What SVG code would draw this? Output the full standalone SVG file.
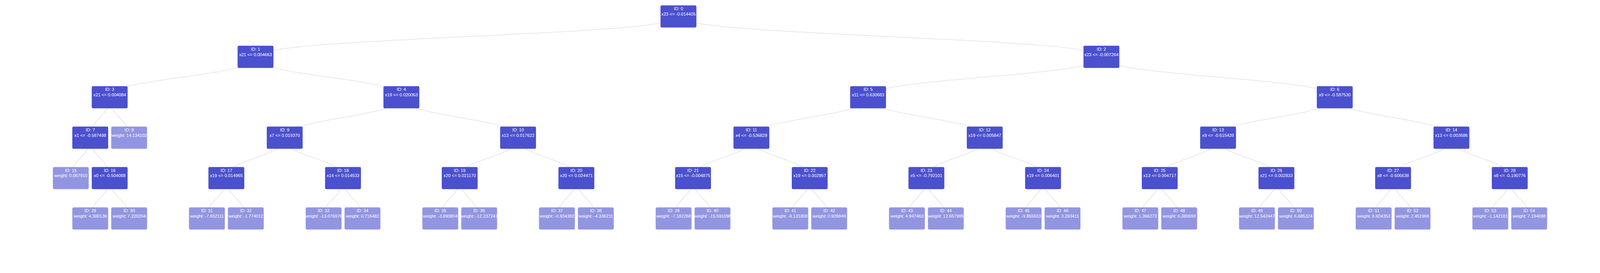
<svg xmlns="http://www.w3.org/2000/svg" width="4760" height="700" viewBox="0 0 4760 700" preserveAspectRatio="xMinYMin meet">
<style>
svg{width:100vw;max-width:4760px}
.links path{fill:none;stroke:#e4e4ef;stroke-width:2}
.node rect{fill:#4b50ce;stroke:none}
.leaf{opacity:0.6}
.leaf rect{stroke:#a9abea;stroke-width:1}
.node text{fill:#ffffff;font-family:"Liberation Sans",Arial,sans-serif;font-size:13px;text-anchor:middle}
</style>
<rect width="4760" height="700" fill="#ffffff"/>
<g id="links" class="links">
<path d="M2018.4,49C2018.4,109.2 760.2,109.2 760.2,169.4"/>
<path d="M2018.4,49C2018.4,109.2 3276.7,109.2 3276.7,169.4"/>
<path d="M760.2,169.4C760.2,229.6 326.3,229.6 326.3,289.8"/>
<path d="M760.2,169.4C760.2,229.6 1194.1,229.6 1194.1,289.8"/>
<path d="M3276.7,169.4C3276.7,229.6 2582.5,229.6 2582.5,289.8"/>
<path d="M3276.7,169.4C3276.7,229.6 3970.9,229.6 3970.9,289.8"/>
<path d="M326.3,289.8C326.3,350 268.5,350 268.5,410.2"/>
<path d="M326.3,289.8C326.3,350 384.2,350 384.2,410.2"/>
<path d="M1194.1,289.8C1194.1,350 847,350 847,410.2"/>
<path d="M1194.1,289.8C1194.1,350 1541.2,350 1541.2,410.2"/>
<path d="M2582.5,289.8C2582.5,350 2235.4,350 2235.4,410.2"/>
<path d="M2582.5,289.8C2582.5,350 2929.6,350 2929.6,410.2"/>
<path d="M3970.9,289.8C3970.9,350 3623.8,350 3623.8,410.2"/>
<path d="M3970.9,289.8C3970.9,350 4318,350 4318,410.2"/>
<path d="M268.5,410.2C268.5,470.4 210.6,470.4 210.6,530.6"/>
<path d="M268.5,410.2C268.5,470.4 326.3,470.4 326.3,530.6"/>
<path d="M847,410.2C847,470.4 673.4,470.4 673.4,530.6"/>
<path d="M847,410.2C847,470.4 1020.5,470.4 1020.5,530.6"/>
<path d="M1541.2,410.2C1541.2,470.4 1367.6,470.4 1367.6,530.6"/>
<path d="M1541.2,410.2C1541.2,470.4 1714.7,470.4 1714.7,530.6"/>
<path d="M2235.4,410.2C2235.4,470.4 2061.8,470.4 2061.8,530.6"/>
<path d="M2235.4,410.2C2235.4,470.4 2408.9,470.4 2408.9,530.6"/>
<path d="M2929.6,410.2C2929.6,470.4 2756,470.4 2756,530.6"/>
<path d="M2929.6,410.2C2929.6,470.4 3103.1,470.4 3103.1,530.6"/>
<path d="M3623.8,410.2C3623.8,470.4 3450.2,470.4 3450.2,530.6"/>
<path d="M3623.8,410.2C3623.8,470.4 3797.3,470.4 3797.3,530.6"/>
<path d="M4318,410.2C4318,470.4 4144.4,470.4 4144.4,530.6"/>
<path d="M4318,410.2C4318,470.4 4491.5,470.4 4491.5,530.6"/>
<path d="M326.3,530.6C326.3,590.8 268.5,590.8 268.5,651"/>
<path d="M326.3,530.6C326.3,590.8 384.2,590.8 384.2,651"/>
<path d="M673.4,530.6C673.4,590.8 615.6,590.8 615.6,651"/>
<path d="M673.4,530.6C673.4,590.8 731.3,590.8 731.3,651"/>
<path d="M1020.5,530.6C1020.5,590.8 962.7,590.8 962.7,651"/>
<path d="M1020.5,530.6C1020.5,590.8 1078.4,590.8 1078.4,651"/>
<path d="M1367.6,530.6C1367.6,590.8 1309.8,590.8 1309.8,651"/>
<path d="M1367.6,530.6C1367.6,590.8 1425.5,590.8 1425.5,651"/>
<path d="M1714.7,530.6C1714.7,590.8 1656.9,590.8 1656.9,651"/>
<path d="M1714.7,530.6C1714.7,590.8 1772.6,590.8 1772.6,651"/>
<path d="M2061.8,530.6C2061.8,590.8 2004,590.8 2004,651"/>
<path d="M2061.8,530.6C2061.8,590.8 2119.7,590.8 2119.7,651"/>
<path d="M2408.9,530.6C2408.9,590.8 2351.1,590.8 2351.1,651"/>
<path d="M2408.9,530.6C2408.9,590.8 2466.8,590.8 2466.8,651"/>
<path d="M2756,530.6C2756,590.8 2698.2,590.8 2698.2,651"/>
<path d="M2756,530.6C2756,590.8 2813.9,590.8 2813.9,651"/>
<path d="M3103.1,530.6C3103.1,590.8 3045.3,590.8 3045.3,651"/>
<path d="M3103.1,530.6C3103.1,590.8 3161,590.8 3161,651"/>
<path d="M3450.2,530.6C3450.2,590.8 3392.4,590.8 3392.4,651"/>
<path d="M3450.2,530.6C3450.2,590.8 3508.1,590.8 3508.1,651"/>
<path d="M3797.3,530.6C3797.3,590.8 3739.5,590.8 3739.5,651"/>
<path d="M3797.3,530.6C3797.3,590.8 3855.2,590.8 3855.2,651"/>
<path d="M4144.4,530.6C4144.4,590.8 4086.6,590.8 4086.6,651"/>
<path d="M4144.4,530.6C4144.4,590.8 4202.3,590.8 4202.3,651"/>
<path d="M4491.5,530.6C4491.5,590.8 4433.7,590.8 4433.7,651"/>
<path d="M4491.5,530.6C4491.5,590.8 4549.4,590.8 4549.4,651"/>
</g>
<g id="n0" class="node" transform="translate(2018.4,16)"><rect x="-53.35" width="106.7" height="66" rx="4"/><text y="14.4">ID: 0</text><text y="30.4">x23 &lt;= -0.014405</text></g>
<g id="n1" class="node" transform="translate(760.2,136.4)"><rect x="-53.35" width="106.7" height="66" rx="4"/><text y="14.4">ID: 1</text><text y="30.4">x21 &lt;= 0.004663</text></g>
<g id="n2" class="node" transform="translate(3276.7,136.4)"><rect x="-53.35" width="106.7" height="66" rx="4"/><text y="14.4">ID: 2</text><text y="30.4">x23 &lt;= -0.007264</text></g>
<g id="n3" class="node" transform="translate(326.3,256.8)"><rect x="-53.35" width="106.7" height="66" rx="4"/><text y="14.4">ID: 3</text><text y="30.4">x21 &lt;= 0.004084</text></g>
<g id="n4" class="node" transform="translate(1194.1,256.8)"><rect x="-53.35" width="106.7" height="66" rx="4"/><text y="14.4">ID: 4</text><text y="30.4">x19 &lt;= 0.020063</text></g>
<g id="n5" class="node" transform="translate(2582.5,256.8)"><rect x="-53.35" width="106.7" height="66" rx="4"/><text y="14.4">ID: 5</text><text y="30.4">x11 &lt;= 0.630683</text></g>
<g id="n6" class="node" transform="translate(3970.9,256.8)"><rect x="-53.35" width="106.7" height="66" rx="4"/><text y="14.4">ID: 6</text><text y="30.4">x9 &lt;= -0.587530</text></g>
<g id="n7" class="node" transform="translate(268.5,377.2)"><rect x="-53.35" width="106.7" height="66" rx="4"/><text y="14.4">ID: 7</text><text y="30.4">x1 &lt;= -0.587498</text></g>
<g id="n8" class="node leaf" transform="translate(384.2,377.2)"><rect x="-53.35" width="106.7" height="66" rx="4"/><text y="14.4">ID: 8</text><text y="30.4">weight: 14.134102</text></g>
<g id="n9" class="node" transform="translate(847,377.2)"><rect x="-53.35" width="106.7" height="66" rx="4"/><text y="14.4">ID: 9</text><text y="30.4">x7 &lt;= 0.019370</text></g>
<g id="n10" class="node" transform="translate(1541.2,377.2)"><rect x="-53.35" width="106.7" height="66" rx="4"/><text y="14.4">ID: 10</text><text y="30.4">x13 &lt;= 0.017622</text></g>
<g id="n11" class="node" transform="translate(2235.4,377.2)"><rect x="-53.35" width="106.7" height="66" rx="4"/><text y="14.4">ID: 11</text><text y="30.4">x4 &lt;= -0.536828</text></g>
<g id="n12" class="node" transform="translate(2929.6,377.2)"><rect x="-53.35" width="106.7" height="66" rx="4"/><text y="14.4">ID: 12</text><text y="30.4">x19 &lt;= 0.005847</text></g>
<g id="n13" class="node" transform="translate(3623.8,377.2)"><rect x="-53.35" width="106.7" height="66" rx="4"/><text y="14.4">ID: 13</text><text y="30.4">x9 &lt;= -0.615439</text></g>
<g id="n14" class="node" transform="translate(4318,377.2)"><rect x="-53.35" width="106.7" height="66" rx="4"/><text y="14.4">ID: 14</text><text y="30.4">x13 &lt;= 0.003686</text></g>
<g id="n15" class="node leaf" transform="translate(210.6,497.6)"><rect x="-53.35" width="106.7" height="66" rx="4"/><text y="14.4">ID: 15</text><text y="30.4">weight: 0.067910</text></g>
<g id="n16" class="node" transform="translate(326.3,497.6)"><rect x="-53.35" width="106.7" height="66" rx="4"/><text y="14.4">ID: 16</text><text y="30.4">x0 &lt;= -0.504088</text></g>
<g id="n17" class="node" transform="translate(673.4,497.6)"><rect x="-53.35" width="106.7" height="66" rx="4"/><text y="14.4">ID: 17</text><text y="30.4">x19 &lt;= 0.014965</text></g>
<g id="n18" class="node" transform="translate(1020.5,497.6)"><rect x="-53.35" width="106.7" height="66" rx="4"/><text y="14.4">ID: 18</text><text y="30.4">x14 &lt;= 0.014533</text></g>
<g id="n19" class="node" transform="translate(1367.6,497.6)"><rect x="-53.35" width="106.7" height="66" rx="4"/><text y="14.4">ID: 19</text><text y="30.4">x20 &lt;= 0.021170</text></g>
<g id="n20" class="node" transform="translate(1714.7,497.6)"><rect x="-53.35" width="106.7" height="66" rx="4"/><text y="14.4">ID: 20</text><text y="30.4">x20 &lt;= 0.024471</text></g>
<g id="n21" class="node" transform="translate(2061.8,497.6)"><rect x="-53.35" width="106.7" height="66" rx="4"/><text y="14.4">ID: 21</text><text y="30.4">x15 &lt;= -0.004875</text></g>
<g id="n22" class="node" transform="translate(2408.9,497.6)"><rect x="-53.35" width="106.7" height="66" rx="4"/><text y="14.4">ID: 22</text><text y="30.4">x19 &lt;= 0.002857</text></g>
<g id="n23" class="node" transform="translate(2756,497.6)"><rect x="-53.35" width="106.7" height="66" rx="4"/><text y="14.4">ID: 23</text><text y="30.4">x5 &lt;= -0.792101</text></g>
<g id="n24" class="node" transform="translate(3103.1,497.6)"><rect x="-53.35" width="106.7" height="66" rx="4"/><text y="14.4">ID: 24</text><text y="30.4">x19 &lt;= 0.006401</text></g>
<g id="n25" class="node" transform="translate(3450.2,497.6)"><rect x="-53.35" width="106.7" height="66" rx="4"/><text y="14.4">ID: 25</text><text y="30.4">x13 &lt;= 0.004717</text></g>
<g id="n26" class="node" transform="translate(3797.3,497.6)"><rect x="-53.35" width="106.7" height="66" rx="4"/><text y="14.4">ID: 26</text><text y="30.4">x21 &lt;= 0.002833</text></g>
<g id="n27" class="node" transform="translate(4144.4,497.6)"><rect x="-53.35" width="106.7" height="66" rx="4"/><text y="14.4">ID: 27</text><text y="30.4">x8 &lt;= -0.606638</text></g>
<g id="n28" class="node" transform="translate(4491.5,497.6)"><rect x="-53.35" width="106.7" height="66" rx="4"/><text y="14.4">ID: 28</text><text y="30.4">x8 &lt;= -0.190776</text></g>
<g id="n29" class="node leaf" transform="translate(268.5,618)"><rect x="-53.35" width="106.7" height="66" rx="4"/><text y="14.4">ID: 29</text><text y="30.4">weight: 4.300136</text></g>
<g id="n30" class="node leaf" transform="translate(384.2,618)"><rect x="-53.35" width="106.7" height="66" rx="4"/><text y="14.4">ID: 30</text><text y="30.4">weight: 7.220204</text></g>
<g id="n31" class="node leaf" transform="translate(615.6,618)"><rect x="-53.35" width="106.7" height="66" rx="4"/><text y="14.4">ID: 31</text><text y="30.4">weight: -7.652111</text></g>
<g id="n32" class="node leaf" transform="translate(731.3,618)"><rect x="-53.35" width="106.7" height="66" rx="4"/><text y="14.4">ID: 32</text><text y="30.4">weight: -1.774012</text></g>
<g id="n33" class="node leaf" transform="translate(962.7,618)"><rect x="-53.35" width="106.7" height="66" rx="4"/><text y="14.4">ID: 33</text><text y="30.4">weight: -13.076976</text></g>
<g id="n34" class="node leaf" transform="translate(1078.4,618)"><rect x="-53.35" width="106.7" height="66" rx="4"/><text y="14.4">ID: 34</text><text y="30.4">weight: 0.716482</text></g>
<g id="n35" class="node leaf" transform="translate(1309.8,618)"><rect x="-53.35" width="106.7" height="66" rx="4"/><text y="14.4">ID: 35</text><text y="30.4">weight: -3.890804</text></g>
<g id="n36" class="node leaf" transform="translate(1425.5,618)"><rect x="-53.35" width="106.7" height="66" rx="4"/><text y="14.4">ID: 36</text><text y="30.4">weight: -12.237247</text></g>
<g id="n37" class="node leaf" transform="translate(1656.9,618)"><rect x="-53.35" width="106.7" height="66" rx="4"/><text y="14.4">ID: 37</text><text y="30.4">weight: -0.934382</text></g>
<g id="n38" class="node leaf" transform="translate(1772.6,618)"><rect x="-53.35" width="106.7" height="66" rx="4"/><text y="14.4">ID: 38</text><text y="30.4">weight: -4.336211</text></g>
<g id="n39" class="node leaf" transform="translate(2004,618)"><rect x="-53.35" width="106.7" height="66" rx="4"/><text y="14.4">ID: 39</text><text y="30.4">weight: -7.182268</text></g>
<g id="n40" class="node leaf" transform="translate(2119.7,618)"><rect x="-53.35" width="106.7" height="66" rx="4"/><text y="14.4">ID: 40</text><text y="30.4">weight: -15.591098</text></g>
<g id="n41" class="node leaf" transform="translate(2351.1,618)"><rect x="-53.35" width="106.7" height="66" rx="4"/><text y="14.4">ID: 41</text><text y="30.4">weight: -8.131800</text></g>
<g id="n42" class="node leaf" transform="translate(2466.8,618)"><rect x="-53.35" width="106.7" height="66" rx="4"/><text y="14.4">ID: 42</text><text y="30.4">weight: 0.926849</text></g>
<g id="n43" class="node leaf" transform="translate(2698.2,618)"><rect x="-53.35" width="106.7" height="66" rx="4"/><text y="14.4">ID: 43</text><text y="30.4">weight: 4.947463</text></g>
<g id="n44" class="node leaf" transform="translate(2813.9,618)"><rect x="-53.35" width="106.7" height="66" rx="4"/><text y="14.4">ID: 44</text><text y="30.4">weight: 12.657995</text></g>
<g id="n45" class="node leaf" transform="translate(3045.3,618)"><rect x="-53.35" width="106.7" height="66" rx="4"/><text y="14.4">ID: 45</text><text y="30.4">weight: -9.855933</text></g>
<g id="n46" class="node leaf" transform="translate(3161,618)"><rect x="-53.35" width="106.7" height="66" rx="4"/><text y="14.4">ID: 46</text><text y="30.4">weight: 3.293411</text></g>
<g id="n47" class="node leaf" transform="translate(3392.4,618)"><rect x="-53.35" width="106.7" height="66" rx="4"/><text y="14.4">ID: 47</text><text y="30.4">weight: 1.366273</text></g>
<g id="n48" class="node leaf" transform="translate(3508.1,618)"><rect x="-53.35" width="106.7" height="66" rx="4"/><text y="14.4">ID: 48</text><text y="30.4">weight: 6.380693</text></g>
<g id="n49" class="node leaf" transform="translate(3739.5,618)"><rect x="-53.35" width="106.7" height="66" rx="4"/><text y="14.4">ID: 49</text><text y="30.4">weight: 12.542447</text></g>
<g id="n50" class="node leaf" transform="translate(3855.2,618)"><rect x="-53.35" width="106.7" height="66" rx="4"/><text y="14.4">ID: 50</text><text y="30.4">weight: 6.685324</text></g>
<g id="n51" class="node leaf" transform="translate(4086.6,618)"><rect x="-53.35" width="106.7" height="66" rx="4"/><text y="14.4">ID: 51</text><text y="30.4">weight: 8.604353</text></g>
<g id="n52" class="node leaf" transform="translate(4202.3,618)"><rect x="-53.35" width="106.7" height="66" rx="4"/><text y="14.4">ID: 52</text><text y="30.4">weight: 2.451966</text></g>
<g id="n53" class="node leaf" transform="translate(4433.7,618)"><rect x="-53.35" width="106.7" height="66" rx="4"/><text y="14.4">ID: 53</text><text y="30.4">weight: -1.142181</text></g>
<g id="n54" class="node leaf" transform="translate(4549.4,618)"><rect x="-53.35" width="106.7" height="66" rx="4"/><text y="14.4">ID: 54</text><text y="30.4">weight: 7.194088</text></g>
</svg>
